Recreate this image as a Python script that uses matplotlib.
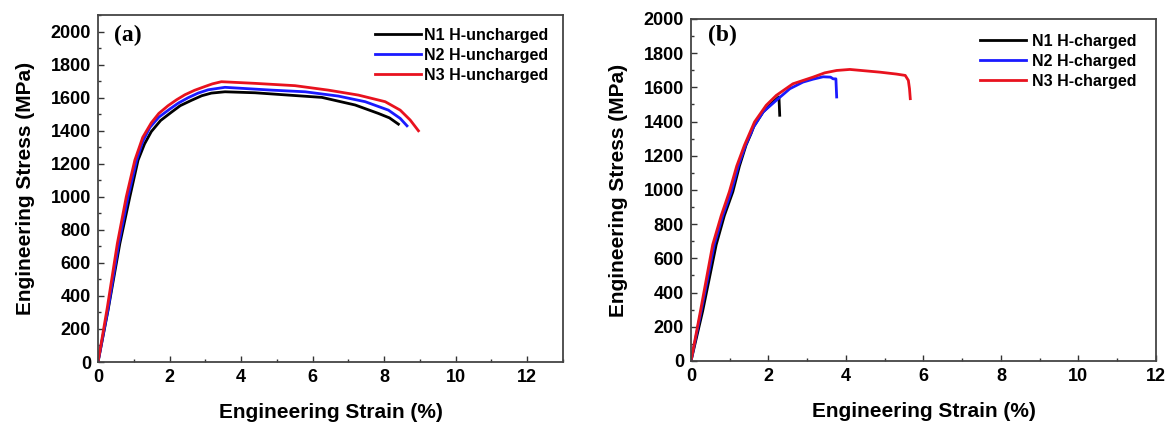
import matplotlib
matplotlib.use("Agg")
import matplotlib.pyplot as plt
from matplotlib.ticker import MultipleLocator

plt.rcParams['font.family'] = ['Liberation Sans', 'DejaVu Sans']
plt.rcParams['font.weight'] = 'bold'

# (a) hydrogen-free specimens: strain (%) / stress (MPa)
strain_n1_unch = [0, 0.28, 0.61, 0.89, 1.12, 1.30, 1.49, 1.75, 2.05, 2.30, 2.61, 2.90, 3.17, 3.55,
                  4.39, 5.32, 6.26, 7.19, 7.84, 8.15, 8.40]
stress_n1_unch = [0, 313, 717, 1000, 1222, 1320, 1395, 1462, 1512, 1552, 1584, 1612, 1628, 1636,
                  1630, 1616, 1602, 1556, 1505, 1478, 1440]
strain_n2_unch = [0, 0.28, 0.58, 0.84, 1.08, 1.25, 1.45, 1.70, 2.01, 2.25, 2.52, 2.80, 3.08, 3.55,
                  4.86, 5.79, 6.72, 7.47, 8.12, 8.45, 8.64]
stress_n2_unch = [0, 320, 717, 1000, 1222, 1335, 1420, 1482, 1532, 1568, 1600, 1628, 1648, 1663,
                  1646, 1636, 1610, 1576, 1525, 1475, 1430]
strain_n3_unch = [0, 0.26, 0.54, 0.79, 1.03, 1.25, 1.49, 1.70, 1.96, 2.20, 2.43, 2.70, 2.99, 3.20, 3.45,
                  4.39, 5.51, 6.44, 7.28, 8.03, 8.45, 8.73, 8.96]
stress_n3_unch = [0, 330, 717, 1000, 1222, 1360, 1448, 1505, 1552, 1588, 1618, 1645, 1668, 1684, 1697,
                  1687, 1673, 1646, 1616, 1576, 1525, 1465, 1400]

# (b) hydrogen-charged specimens
strain_n1_ch = [0, 0.30, 0.65, 0.86, 1.08, 1.25, 1.42, 1.55, 1.62, 1.86, 2.12, 2.27, 2.29]
stress_n1_ch = [0, 291, 680, 850, 990, 1140, 1262, 1330, 1372, 1456, 1515, 1544, 1437]
strain_n2_ch = [0, 0.27, 0.60, 0.82, 1.04, 1.22, 1.41, 1.62, 1.86, 2.20, 2.55, 2.89, 3.15, 3.41, 3.60,
                3.67, 3.74, 3.76]
stress_n2_ch = [0, 300, 680, 850, 990, 1140, 1262, 1370, 1456, 1524, 1592, 1631, 1648, 1662, 1660,
                1650, 1650, 1544]
strain_n3_ch = [0, 0.25, 0.56, 0.78, 0.99, 1.18, 1.38, 1.64, 1.94, 2.20, 2.63, 3.15, 3.45, 3.76, 4.10,
                4.88, 5.30, 5.53, 5.61, 5.64, 5.66]
stress_n3_ch = [0, 300, 680, 850, 990, 1140, 1262, 1398, 1495, 1553, 1621, 1660, 1685, 1699, 1705,
                1689, 1678, 1670, 1641, 1592, 1534]

labels_unch = ['N1 H-uncharged', 'N2 H-uncharged', 'N3 H-uncharged']
labels_ch = ['N1 H-charged', 'N2 H-charged', 'N3 H-charged']
colors = ['black', '#1a1aff', '#e8121e']


def style_axis(ax, xmax, ymax):
    ax.set_xlim(0, xmax)
    ax.set_ylim(0, ymax)
    ax.xaxis.set_major_locator(MultipleLocator(2))
    ax.xaxis.set_minor_locator(MultipleLocator(1))
    ax.yaxis.set_major_locator(MultipleLocator(200))
    ax.yaxis.set_minor_locator(MultipleLocator(100))
    ax.tick_params(which='both', direction='in', top=False, right=False,
                   color='#333333', width=1)
    ax.tick_params(which='major', length=4.5, labelsize=13, pad=5)
    ax.tick_params(which='minor', length=2.5)
    for sp in ax.spines.values():
        sp.set_linewidth(1.3)
        sp.set_color('#444444')
    ax.set_xlabel('Engineering Strain (%)', fontsize=15, fontweight='bold', labelpad=12)
    ax.set_ylabel('Engineering Stress (MPa)', fontsize=15, fontweight='bold', labelpad=11)


fig = plt.figure(figsize=(11.71, 4.23), dpi=100)
ax_a = fig.add_axes([0.0837, 0.1442, 0.397, 0.820])
ax_b = fig.add_axes([0.5901, 0.1466, 0.397, 0.8085])

for xs, ys, c, lab in zip([strain_n1_unch, strain_n2_unch, strain_n3_unch],
                          [stress_n1_unch, stress_n2_unch, stress_n3_unch],
                          colors, labels_unch):
    ax_a.plot(xs, ys, color=c, lw=2, label=lab)

for xs, ys, c, lab in zip([strain_n1_ch, strain_n2_ch, strain_n3_ch],
                          [stress_n1_ch, stress_n2_ch, stress_n3_ch],
                          colors, labels_ch):
    ax_b.plot(xs, ys, color=c, lw=2, label=lab)

style_axis(ax_a, 13, 2100)
style_axis(ax_b, 12, 2000)

ax_a.legend(loc='upper left', bbox_to_anchor=(0.596, 0.963), frameon=False,
            fontsize=11.5, handlelength=2.9, handletextpad=0.15,
            labelspacing=0.3, borderpad=0, borderaxespad=0)
ax_b.legend(loc='upper left', bbox_to_anchor=(0.622, 0.956), frameon=False,
            fontsize=11.5, handlelength=2.9, handletextpad=0.35,
            labelspacing=0.3, borderpad=0, borderaxespad=0)

ax_a.text(0.065, 0.942, '(a)', transform=ax_a.transAxes, fontsize=17,
          fontweight='bold', family='Liberation Serif', va='center', ha='center')
ax_b.text(0.068, 0.953, '(b)', transform=ax_b.transAxes, fontsize=17,
          fontweight='bold', family='Liberation Serif', va='center', ha='center')

fig.savefig('out.png', dpi=100)
